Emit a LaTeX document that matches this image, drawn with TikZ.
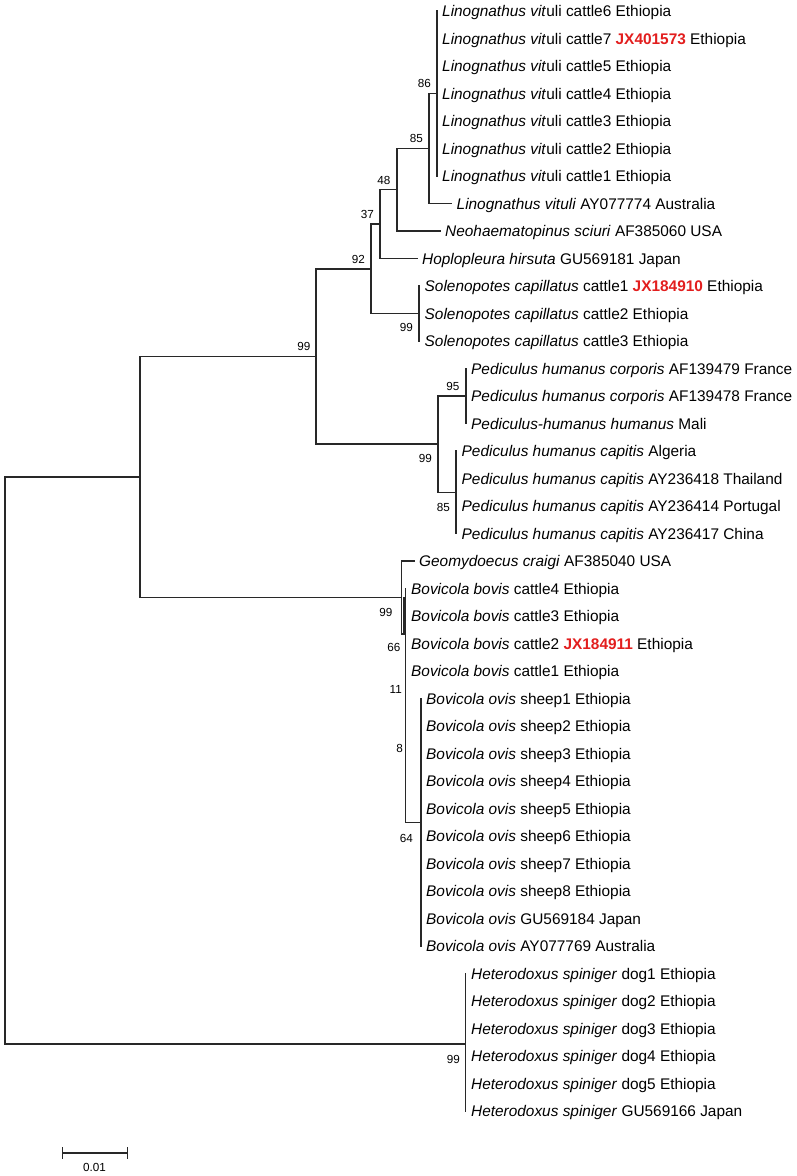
\documentclass[tikz,border=0pt]{standalone}
\usepackage{fontspec}
\setmainfont{Liberation Sans}
\definecolor{accred}{RGB}{226,30,30}
\definecolor{treeline}{RGB}{40,40,40}
\newcommand\Lvit{\textit{Linognathus vit}uli}
\newcommand\accn[1]{\textcolor{accred}{\textbf{#1}}}
\begin{document}
\begin{tikzpicture}[x=1pt,y=-1pt,
  leaf/.style={anchor=west,inner sep=0pt,text height=11pt,text depth=0pt,font=\fontsize{15.4}{18}\selectfont},
  bs/.style={anchor=east,inner sep=0pt,font=\fontsize{11.7}{13}\selectfont},
  br/.style={draw=treeline,line width=1.4pt},
  every path/.append style={line cap=rect}]
\useasboundingbox (0,0) rectangle (796,1176);
% ---- leaves
\node[leaf] (L1) at (442,11) {\Lvit{} cattle6 Ethiopia};
\node[leaf] (L2) at (442,38.5) {\Lvit{} cattle7 \accn{JX401573} Ethiopia};
\node[leaf] (L3) at (442,66) {\Lvit{} cattle5 Ethiopia};
\node[leaf] (L4) at (442,93.5) {\Lvit{} cattle4 Ethiopia};
\node[leaf] (L5) at (442,121) {\Lvit{} cattle3 Ethiopia};
\node[leaf] (L6) at (442,148.5) {\Lvit{} cattle2 Ethiopia};
\node[leaf] (L7) at (442,176) {\Lvit{} cattle1 Ethiopia};
\node[leaf] (L8) at (456.5,203.5) {\textit{Linognathus vituli} AY077774 Australia};
\node[leaf] (L9) at (445,231) {\textit{Neohaematopinus sciuri} AF385060 USA};
\node[leaf] (L10) at (422,258.5) {\textit{Hoplopleura hirsuta} GU569181 Japan};
\node[leaf] (L11) at (424.5,286) {\textit{Solenopotes capillatus} cattle1 \accn{JX184910} Ethiopia};
\node[leaf] (L12) at (424.5,313.5) {\textit{Solenopotes capillatus} cattle2 Ethiopia};
\node[leaf] (L13) at (424.5,341) {\textit{Solenopotes capillatus} cattle3 Ethiopia};
\node[leaf] (L14) at (471,368.5) {\textit{Pediculus humanus corporis} AF139479 France};
\node[leaf] (L15) at (471,396) {\textit{Pediculus humanus corporis} AF139478 France};
\node[leaf] (L16) at (471,423.5) {\textit{Pediculus-humanus humanus} Mali};
\node[leaf] (L17) at (461.5,451) {\textit{Pediculus humanus capitis} Algeria};
\node[leaf] (L18) at (461.5,478.5) {\textit{Pediculus humanus capitis} AY236418 Thailand};
\node[leaf] (L19) at (461.5,506) {\textit{Pediculus humanus capitis} AY236414 Portugal};
\node[leaf] (L20) at (461.5,533.5) {\textit{Pediculus humanus capitis} AY236417 China};
\node[leaf] (L21) at (419,561) {\textit{Geomydoecus craigi} AF385040 USA};
\node[leaf] (L22) at (411,588.5) {\textit{Bovicola bovis} cattle4 Ethiopia};
\node[leaf] (L23) at (411,616) {\textit{Bovicola bovis} cattle3 Ethiopia};
\node[leaf] (L24) at (411,643.5) {\textit{Bovicola bovis} cattle2 \accn{JX184911} Ethiopia};
\node[leaf] (L25) at (411,671) {\textit{Bovicola bovis} cattle1 Ethiopia};
\node[leaf] (L26) at (426,698.5) {\textit{Bovicola ovis} sheep1 Ethiopia};
\node[leaf] (L27) at (426,726) {\textit{Bovicola ovis} sheep2 Ethiopia};
\node[leaf] (L28) at (426,753.5) {\textit{Bovicola ovis} sheep3 Ethiopia};
\node[leaf] (L29) at (426,781) {\textit{Bovicola ovis} sheep4 Ethiopia};
\node[leaf] (L30) at (426,808.5) {\textit{Bovicola ovis} sheep5 Ethiopia};
\node[leaf] (L31) at (426,836) {\textit{Bovicola ovis} sheep6 Ethiopia};
\node[leaf] (L32) at (426,863.5) {\textit{Bovicola ovis} sheep7 Ethiopia};
\node[leaf] (L33) at (426,891) {\textit{Bovicola ovis} sheep8 Ethiopia};
\node[leaf] (L34) at (426,918.5) {\textit{Bovicola ovis} GU569184 Japan};
\node[leaf] (L35) at (426,946) {\textit{Bovicola ovis} AY077769 Australia};
\node[leaf] (L36) at (471,973.5) {\textit{Heterodoxus spiniger} dog1 Ethiopia};
\node[leaf] (L37) at (471,1001) {\textit{Heterodoxus spiniger} dog2 Ethiopia};
\node[leaf] (L38) at (471,1028.5) {\textit{Heterodoxus spiniger} dog3 Ethiopia};
\node[leaf] (L39) at (471,1056) {\textit{Heterodoxus spiniger} dog4 Ethiopia};
\node[leaf] (L40) at (471,1083.5) {\textit{Heterodoxus spiniger} dog5 Ethiopia};
\node[leaf] (L41) at (471,1111) {\textit{Heterodoxus spiniger} GU569166 Japan};
% ---- internal nodes
\coordinate (N7) at (437,93.5);
\coordinate (N6) at (429,148.5);
\coordinate (N5) at (397,189.75);
\coordinate (N4) at (380,224);
\coordinate (N3) at (371,268.9);
\coordinate (S) at (419,313.5);
\coordinate (N2) at (316,356.5);
\coordinate (P99) at (438,444.1);
\coordinate (P95) at (466,396);
\coordinate (P85) at (456,492.25);
\coordinate (N1) at (140,477);
\coordinate (R) at (5,760);
\coordinate (H) at (465.7,1044);
\coordinate (A) at (401.7,597.5);
\coordinate (X) at (404,634);
\coordinate (B) at (405.7,598);
\coordinate (O) at (421,822.25);
% ---- branches
\draw[br] (N7 |- L1.west) -- (N7 |- L7.west);
\draw[br] (N6) |- (N7);
\draw[br] (N6) |- ([xshift=-5pt]L8.west);
\draw[br] (N5) |- (N6);
\draw[br] (N5) |- ([xshift=-5pt]L9.west);
\draw[br] (N4) |- (N5);
\draw[br] (N4) |- ([xshift=-5pt]L10.west);
\draw[br] (N3) |- (N4);
\draw[br] (N3) |- (S);
\draw[br] (S |- L11.west) -- (S |- L13.west);
\draw[br] (N2) |- (N3);
\draw[br] (N2) |- (P99);
\draw[br] (P99) |- (P95);
\draw[br] (P99) |- (P85);
\draw[br] (P95 |- L14.west) -- (P95 |- L16.west);
\draw[br] (P85 |- L17.west) -- (P85 |- L20.west);
\draw[br] (N1) |- (N2);
\draw[br] (N1) |- (A);
\draw[br] (R) |- (N1);
\draw[br] (R) |- (H);
\draw[br] (H |- L36.west) -- (H |- L41.west);
\draw[br] (A) |- ([xshift=-5pt]L21.west);
\draw[br] (A) |- (X);
\draw[br] (X) |- (B);
\draw[br] (B |- L22.west) -- (B |- O);
\draw[br] (B |- O) -- (O);
\draw[br] (O |- L26.west) -- (O |- L35.west);
% ---- bootstrap values
\node[bs] at (431,83) {86};
\node[bs] at (423,138) {85};
\node[bs] at (390.5,180) {48};
\node[bs] at (374,214.5) {37};
\node[bs] at (365,259.5) {92};
\node[bs] at (413,327.5) {99};
\node[bs] at (310.5,346) {99};
\node[bs] at (459.5,386.5) {95};
\node[bs] at (432,458) {99};
\node[bs] at (450,507) {85};
\node[bs] at (392.5,612) {99};
\node[bs] at (400.5,647) {66};
\node[bs] at (402,689) {11};
\node[bs] at (403,748) {8};
\node[bs] at (413,838) {64};
\node[bs] at (460,1059) {99};
% ---- scale bar
\coordinate (sb1) at (62.3,1153);
\coordinate (sb2) at (127.3,1153);
\draw[br,line width=1.6pt] (sb1) -- (sb2);
\draw[br] ([yshift=-5pt]sb1) -- ([yshift=5pt]sb1);
\draw[br] ([yshift=-5pt]sb2) -- ([yshift=5pt]sb2);
\node[bs,anchor=center] (sbl) at (94.5,1167.5) {0.01};
\end{tikzpicture}
\end{document}
